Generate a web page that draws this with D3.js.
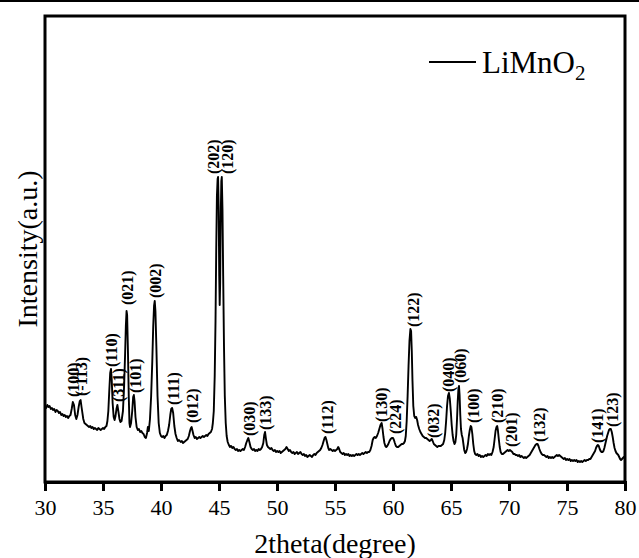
<!DOCTYPE html>
<html>
<head>
<meta charset="utf-8">
<script src="https://cdn.jsdelivr.net/npm/d3@7"></script>
<style>
  html, body { margin: 0; padding: 0; background: #ffffff; }
  svg { display: block; }
</style>
</head>
<body>
<div id="chart"></div>
<script>
// XRD pattern of LiMnO2: [2theta (degree), intensity (a.u.)]
const pattern = [
[30.0,75],[30.1,73],[30.2,76],[30.3,74],[30.4,75],[30.5,72],[30.6,73],[30.7,71],[30.8,72],[30.9,69],
[31.0,71],[31.1,70],[31.2,68],[31.3,69],[31.4,66],[31.5,67],[31.6,65],[31.7,66],[31.8,64],[31.9,65],
[32.0,63],[32.1,65],[32.2,66],[32.3,72],[32.4,79],[32.5,76],[32.6,66],[32.7,62],[32.8,66],[32.9,74],
[33.0,80],[33.07,81],[33.15,74],[33.3,62],[33.4,58],[33.5,57],[33.6,56],[33.7,55],[33.8,54],[33.9,55],
[34.0,53],[34.1,54],[34.2,52],[34.3,53],[34.4,52],[34.5,51],[34.6,53],[34.7,52],[34.8,51],[34.9,52],
[35.0,53],[35.1,52],[35.2,54],[35.3,55],[35.38,60],[35.46,70],[35.54,90],[35.62,108],[35.69,112],[35.75,102],
[35.83,78],[35.92,64],[36.0,61],[36.08,65],[36.16,72],[36.24,76],[36.32,70],[36.42,62],[36.5,59],[36.6,60],
[36.72,70],[36.82,95],[36.9,125],[36.97,155],[37.03,170],[37.08,166],[37.15,130],[37.22,85],[37.28,58],[37.33,54],
[37.42,58],[37.52,70],[37.6,84],[37.66,86],[37.72,80],[37.8,64],[37.9,54],[38.0,51],[38.1,52],[38.2,49],
[38.3,50],[38.4,48],[38.5,47],[38.6,44],[38.7,43],[38.8,48],[38.87,54],[38.95,50],[39.05,62],[39.15,85],
[39.25,120],[39.33,155],[39.4,175],[39.46,180],[39.52,170],[39.6,135],[39.7,85],[39.8,58],[39.9,48],[40.0,45],
[40.1,44],[40.2,45],[40.3,43],[40.4,45],[40.5,46],[40.6,50],[40.7,56],[40.8,66],[40.88,72],[40.96,73],
[41.05,68],[41.15,55],[41.25,47],[41.35,43],[41.45,40],[41.55,41],[41.7,39],[41.8,40],[41.9,38],[42.0,39],
[42.1,40],[42.2,41],[42.3,42],[42.4,45],[42.5,50],[42.58,53],[42.64,54],[42.72,50],[42.8,46],[42.9,43],
[43.0,44],[43.1,42],[43.2,43],[43.3,44],[43.4,43],[43.5,44],[43.6,45],[43.7,44],[43.8,45],[43.9,46],
[44.0,45],[44.1,47],[44.2,48],[44.3,49],[44.4,52],[44.47,58],[44.55,70],[44.63,105],[44.7,160],[44.76,230],
[44.82,285],[44.88,302],[44.92,304],[44.97,275],[45.02,205],[45.06,176],[45.1,198],[45.15,265],[45.2,300],[45.24,304],
[45.3,272],[45.36,205],[45.43,135],[45.5,85],[45.58,58],[45.66,45],[45.75,39],[45.85,36],[45.95,34],[46.05,35],
[46.15,33],[46.25,34],[46.35,32],[46.45,31],[46.55,32],[46.65,30],[46.75,31],[46.85,30],[46.95,31],[47.05,32],
[47.15,31],[47.25,34],[47.35,38],[47.45,41],[47.53,43],[47.62,39],[47.72,34],[47.82,32],[47.92,31],[48.02,32],
[48.12,30],[48.22,31],[48.32,30],[48.42,32],[48.52,31],[48.62,32],[48.72,34],[48.82,38],[48.9,46],[48.97,49],
[49.05,42],[49.13,36],[49.22,34],[49.32,33],[49.42,32],[49.52,33],[49.62,31],[49.72,30],[49.82,31],[49.92,29],
[50.02,30],[50.12,29],[50.22,30],[50.32,28],[50.42,29],[50.52,30],[50.62,31],[50.72,32],[50.82,34],[50.92,32],
[51.02,30],[51.12,31],[51.22,29],[51.32,28],[51.42,29],[51.52,27],[51.62,28],[51.72,29],[51.82,27],[51.92,28],
[52.02,29],[52.12,27],[52.22,26],[52.32,27],[52.42,25],[52.52,26],[52.62,24],[52.72,25],[52.82,26],[52.92,25],
[53.02,24],[53.12,26],[53.22,27],[53.32,26],[53.42,28],[53.52,29],[53.62,30],[53.72,31],[53.82,33],[53.92,36],
[54.02,40],[54.1,43],[54.18,44],[54.26,41],[54.34,37],[54.42,33],[54.5,31],[54.6,32],[54.7,31],[54.8,30],
[54.9,31],[55.0,30],[55.1,31],[55.2,32],[55.28,34],[55.36,32],[55.45,29],[55.55,28],[55.65,27],[55.75,28],
[55.85,26],[55.95,27],[56.05,26],[56.15,27],[56.25,25],[56.35,26],[56.45,25],[56.55,26],[56.65,25],[56.75,26],
[56.85,27],[56.95,26],[57.05,27],[57.15,26],[57.25,27],[57.35,28],[57.45,27],[57.55,28],[57.65,29],[57.75,28],
[57.85,29],[57.95,29],[58.05,31],[58.15,35],[58.25,41],[58.33,43],[58.42,44],[58.52,43],[58.62,45],[58.72,48],
[58.82,52],[58.92,56],[59.02,58],[59.1,52],[59.18,44],[59.26,38],[59.34,35],[59.42,34],[59.5,35],[59.6,37],
[59.7,40],[59.8,42],[59.9,43],[60.0,43],[60.08,41],[60.16,38],[60.25,35],[60.35,34],[60.45,34],[60.55,35],
[60.65,36],[60.75,37],[60.85,37],[60.95,38],[61.03,40],[61.1,45],[61.18,60],[61.26,85],[61.34,115],[61.42,140],
[61.5,152],[61.56,150],[61.62,130],[61.68,100],[61.75,75],[61.83,65],[61.92,63],[62.0,64],[62.08,61],[62.16,56],
[62.26,52],[62.36,49],[62.46,47],[62.56,45],[62.66,44],[62.76,43],[62.86,43],[62.96,42],[63.06,41],[63.16,40],
[63.26,41],[63.34,42],[63.42,40],[63.52,37],[63.62,36],[63.72,35],[63.82,34],[63.92,35],[64.02,35],[64.12,35],
[64.22,36],[64.32,37],[64.42,41],[64.5,48],[64.58,60],[64.66,75],[64.74,85],[64.82,88],[64.9,82],[64.98,70],
[65.06,56],[65.14,46],[65.22,40],[65.3,37],[65.38,39],[65.45,46],[65.52,62],[65.58,80],[65.64,92],[65.69,95],
[65.74,86],[65.8,66],[65.86,52],[65.93,46],[66.0,43],[66.07,37],[66.14,31],[66.22,28],[66.3,29],[66.38,32],
[66.46,37],[66.54,45],[66.62,51],[66.7,55],[66.76,54],[66.84,47],[66.92,37],[67.0,30],[67.08,27],[67.18,26],
[67.28,27],[67.38,25],[67.48,26],[67.58,24],[67.68,25],[67.78,24],[67.88,25],[67.98,26],[68.08,25],[68.18,27],
[68.28,26],[68.38,27],[68.48,26],[68.58,29],[68.68,34],[68.76,42],[68.84,50],[68.92,54],[68.98,55],[69.04,51],
[69.12,42],[69.2,34],[69.28,29],[69.38,27],[69.48,27],[69.58,28],[69.68,29],[69.78,30],[69.88,31],[69.98,30],
[70.08,31],[70.18,30],[70.28,29],[70.38,27],[70.48,27],[70.58,26],[70.68,26],[70.78,25],[70.88,26],[70.98,24],
[71.08,25],[71.18,24],[71.28,23],[71.38,24],[71.48,23],[71.58,24],[71.68,25],[71.78,26],[71.88,28],[71.98,30],
[72.08,32],[72.18,34],[72.28,36],[72.38,37],[72.46,37],[72.54,35],[72.62,32],[72.72,29],[72.82,27],[72.92,26],
[73.02,26],[73.12,25],[73.22,24],[73.32,25],[73.42,23],[73.52,24],[73.62,23],[73.72,24],[73.82,23],[73.92,24],
[74.02,25],[74.12,26],[74.22,25],[74.32,26],[74.42,25],[74.52,24],[74.62,23],[74.72,22],[74.82,23],[74.92,21],
[75.02,22],[75.12,21],[75.22,22],[75.32,20],[75.42,21],[75.52,20],[75.62,21],[75.72,20],[75.82,21],[75.92,19],
[76.02,20],[76.12,19],[76.22,20],[76.32,19],[76.42,20],[76.52,21],[76.62,20],[76.72,21],[76.82,21],[76.92,22],
[77.02,22],[77.12,24],[77.22,26],[77.32,28],[77.42,30],[77.5,33],[77.58,35],[77.66,36],[77.74,35],[77.82,32],
[77.9,30],[77.98,29],[78.06,29],[78.14,30],[78.22,33],[78.3,37],[78.38,41],[78.46,45],[78.54,48],[78.62,51],
[78.7,52],[78.78,52],[78.86,49],[78.94,44],[79.02,38],[79.1,33],[79.18,30],[79.26,28],[79.34,27],[79.42,26],
[79.5,24],[79.58,22],[79.66,21],[79.74,22],[79.82,23],[79.9,24],[80.0,24]
];

// Miller-index labels: text, 2theta position, intensity at label base
const peakLabels = ["(100)","(-113)","(110)","(311)","(021)","(101)","(002)","(111)","(012)","(202)","(120)","(030)","(133)","(112)","(130)","(224)","(122)","(032)","(040)","(060)","(100)","(210)","(201)","(132)","(141)","(123)"];
const peakLabelX = [32.41,33.15,35.76,36.33,37.12,37.76,39.48,41.06,42.70,44.51,45.72,47.61,48.97,54.34,58.97,60.17,61.75,63.48,64.74,65.84,66.90,68.97,70.17,72.59,77.59,78.94];
const peakLabelY = [84,85,114,79,176,88,183,76,58,307,307,45,51,47,59,47,154,43,89,98,58,58,34,39,38,54];

const xTicks = [30,35,40,45,50,55,60,65,70,75,80];
const xTitle = "2theta(degree)";
const yTitle = "Intensity(a.u.)";
const seriesName = "LiMnO";

const W = 639, H = 558;
const margin = {left: 45, right: 14, top: 16, bottom: 76};
const svg = d3.select("#chart").append("svg").attr("width", W).attr("height", H);

const x = d3.scaleLinear().domain([30, 80]).range([margin.left, W - margin.right]);
const y = d3.scaleLinear().domain([0, 466]).range([H - margin.bottom - 1, margin.top - 1]);

const serif = "'Liberation Serif', 'Times New Roman', serif";

// top rule
svg.append("line").attr("x1", 0).attr("x2", W).attr("y1", 1).attr("y2", 1)
  .attr("stroke", "#000").attr("stroke-width", 2);

// pattern line
const line = d3.line().x(d => x(d[0])).y(d => y(d[1]));
svg.append("path").datum(pattern).attr("d", line)
  .attr("fill", "none").attr("stroke", "#000").attr("stroke-width", 1.9)
  .attr("stroke-linejoin", "round");

// frame
const x0 = margin.left, x1 = W - margin.right, yTop = margin.top, yBot = H - margin.bottom;
svg.append("rect").attr("x", x0).attr("y", yTop).attr("width", x1 - x0).attr("height", yBot - yTop)
  .attr("fill", "none").attr("stroke", "#000").attr("stroke-width", 3);

// x axis
const xAxis = d3.axisBottom(x).tickValues(xTicks).tickSize(9).tickPadding(8).tickFormat(d3.format("d"));
const gx = svg.append("g").attr("transform", `translate(0,${yBot})`).call(xAxis);
gx.select(".domain").attr("stroke-width", 3);
gx.selectAll(".tick line").attr("stroke-width", 3);
gx.selectAll(".tick text").attr("font-family", serif).attr("font-size", 22).attr("fill", "#000");

// axis titles
svg.append("text").attr("x", (x0 + x1) / 2).attr("y", 553).attr("text-anchor", "middle")
  .attr("font-family", serif).attr("font-size", 28).text(xTitle);
svg.append("text").attr("transform", `translate(37,${249}) rotate(-90)`).attr("text-anchor", "middle")
  .attr("font-family", serif).attr("font-size", 28).text(yTitle);

// peak labels
svg.append("g").selectAll("text").data(peakLabels).join("text")
  .attr("transform", (d, i) => `translate(${x(peakLabelX[i])},${y(peakLabelY[i])}) rotate(-90)`)
  .attr("text-anchor", "start").attr("dy", "0.35em")
  .attr("font-family", serif).attr("font-weight", "bold").attr("font-size", 16)
  .text(d => d);

// legend
svg.append("line").attr("x1", 429).attr("x2", 476).attr("y1", 62).attr("y2", 62)
  .attr("stroke", "#000").attr("stroke-width", 1.8);
const lt = svg.append("text").attr("x", 482).attr("y", 73)
  .attr("font-family", serif).attr("font-size", 31);
lt.append("tspan").text(seriesName);
lt.append("tspan").attr("font-size", 21).attr("dy", 7).text("2");
</script>
</body>
</html>
